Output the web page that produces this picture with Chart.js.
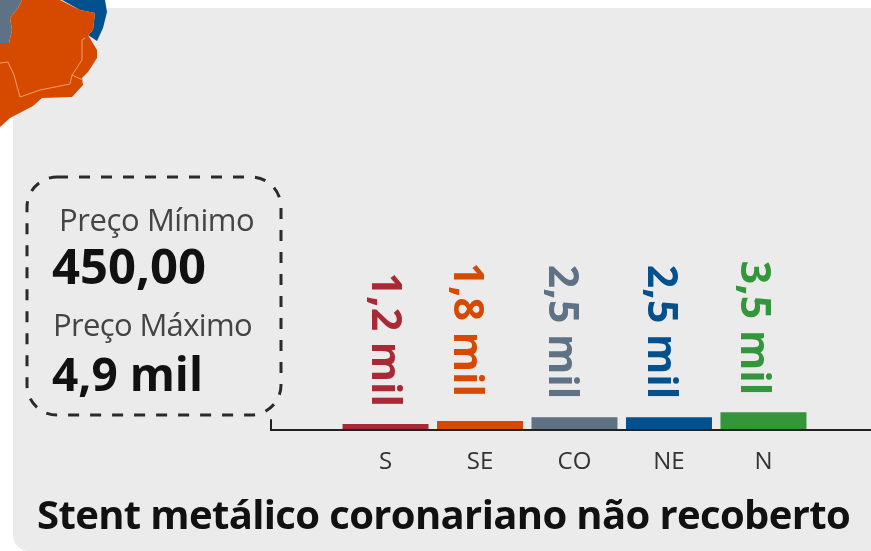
<!DOCTYPE html>
<html lang="pt">
<head>
<meta charset="utf-8">
<title>Stent metálico coronariano não recoberto</title>
<script src="https://cdn.jsdelivr.net/npm/chart.js@4"></script>
<style>
  html, body { margin: 0; padding: 0; background: #fff; }
  #page { position: relative; width: 871px; height: 551px; overflow: hidden; font-family: "Open Sans", sans-serif; }
  #panel { position: absolute; left: 13px; top: 8px; width: 878px; height: 543px; background: #ebebeb; border-radius: 16px; }
  #map, #chart { position: absolute; left: 0; top: 0; }
  .txt { position: absolute; white-space: nowrap; line-height: 1; }
  .lbl { font-size: 31px; color: #444; letter-spacing: -0.4px; }
  .num { font-size: 49px; font-weight: 700; color: #111; }
  #title { left: 37px; top: 494px; font-size: 40px; font-weight: 700; color: #111; letter-spacing: -0.63px; }
</style>
</head>
<body>
<div id="page">
  <div id="panel"></div>
  <svg id="map" width="871" height="551">
    <polygon fill="#5f7285" points="0,0 22,0 18,8 10,18 12,30 9,43 0,43"/>
    <polygon fill="#03508f" points="25,0 105,0 107,12 103,28 97,41 88,35 93,30 95,13 80,10 62,0"/>
    <polygon fill="#d64a00" points="0,43 9,43 12,30 10,18 18,8 22,0 60,0 80,10 95,13 93,30 88,35 97,50 97,58 88,72 82,78 83,85 72,97 42,98 33,106 10,118 0,127"/>
    <polyline fill="none" stroke="#f0a070" stroke-width="1" points="0,63 8,62 14,75 20,97 40,90 70,84 72,75 82,60 82,40 85,38"/>
    <polyline fill="none" stroke="#f0a070" stroke-width="1" points="72,75 83,80"/>
    <rect x="27" y="177" width="254" height="238" rx="30" ry="30" fill="none" stroke="#2a2a2a" stroke-width="3" stroke-dasharray="11 11"/>
  </svg>
  <canvas id="chart" width="871" height="551"></canvas>
  <div class="txt lbl" style="left:59px;top:204px">Preço Mínimo</div>
  <div class="txt num" style="left:52px;top:241px">450,00</div>
  <div class="txt lbl" style="left:53px;top:309px;letter-spacing:-0.65px">Preço Máximo</div>
  <div class="txt num" style="left:52px;top:350px;font-size:46px">4,9 mil</div>
  <div class="txt" id="title">Stent metálico coronariano não recoberto</div>
</div>
<script>
// valores em milhares de reais
var regions = ["S", "SE", "CO", "NE", "N"];
var values = [1.2, 1.8, 2.5, 2.5, 3.5];
var barColors = ["#a82a35", "#d64a00", "#5f7285", "#03508f", "#33963a"];
// ajuste manual dos rotulos em relacao ao topo da barra
var labelShiftX = [-2, -14, -14, -9, -11];
var labelGapY = [17, 24, 18, 18, 17];

function formatValue(v) {
    return v.toFixed(1).replace(".", ",") + " mil";
}

var rotatedLabels = {
    id: "rotatedLabels",
    afterDatasetsDraw: function (chart) {
        var ctx = chart.ctx;
        chart.getDatasetMeta(0).data.forEach(function (bar, i) {
            ctx.save();
            ctx.translate(bar.x + labelShiftX[i], bar.y - labelGapY[i]);
            ctx.rotate(Math.PI / 2);
            ctx.font = "700 41px 'Open Sans'";
            ctx.fillStyle = barColors[i];
            ctx.textAlign = "right";
            ctx.textBaseline = "middle";
            ctx.fillText(formatValue(values[i]), 0, 0);
            ctx.restore();
        });
    }
};

// pequeno traco vertical no inicio do eixo
var axisStub = {
    id: "axisStub",
    afterDraw: function (chart) {
        var ctx = chart.ctx;
        var area = chart.chartArea;
        ctx.save();
        ctx.strokeStyle = "#222";
        ctx.lineWidth = 2;
        ctx.beginPath();
        ctx.moveTo(area.left, area.bottom - 11);
        ctx.lineTo(area.left, area.bottom);
        ctx.stroke();
        ctx.restore();
    }
};

new Chart(document.getElementById("chart"), {
    type: "bar",
    data: {
        datasets: [{
            data: values.map(function (v, i) { return { x: i, y: v }; }),
            backgroundColor: barColors,
            categoryPercentage: 1,
            barPercentage: 0.91
        }]
    },
    options: {
        responsive: false,
        animation: false,
        layout: { padding: { left: 271, right: 0, top: 230, bottom: 64 } },
        plugins: { legend: { display: false }, tooltip: { enabled: false } },
        scales: {
            x: {
                type: "linear",
                offset: false,
                min: -1.212,
                max: 5.138,
                grid: { display: false },
                border: { color: "#222", width: 2, z: 1 },
                ticks: {
                    stepSize: 1,
                    includeBounds: false,
                    autoSkip: false,
                    maxRotation: 0,
                    padding: 10,
                    color: "#333",
                    font: { family: "'Open Sans'", size: 24 },
                    callback: function (v) { return regions[v] || ""; }
                }
            },
            y: { display: false, min: 0, max: 39 }
        }
    },
    plugins: [rotatedLabels, axisStub]
});
</script>
</body>
</html>
